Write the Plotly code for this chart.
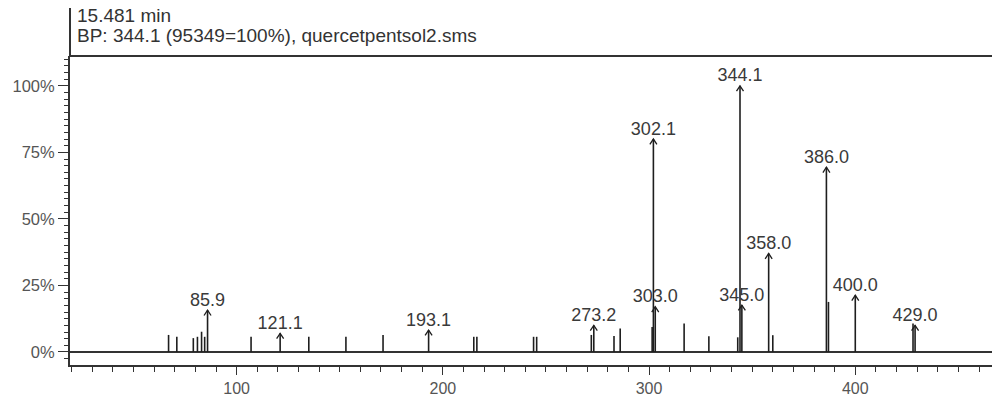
import plotly.graph_objects as go

# ---- data ----
title_line1 = "15.481 min"
title_line2 = "BP: 344.1 (95349=100%), quercetpentsol2.sms"

# unlabeled peaks (m/z, relative intensity %)
peak_mz = [67, 71, 79, 81, 83, 84.5, 107, 135, 153, 171, 215, 216.5, 244, 245.5,
           272, 283, 286, 301.5, 317, 329, 343, 360, 387, 428]
peak_int = [6.4, 5.7, 5.2, 5.7, 7.6, 5.7, 5.7, 5.7, 5.7, 6.4, 5.7, 5.7, 5.7, 5.7,
            6.4, 6.0, 8.8, 9.4, 10.7, 5.9, 5.5, 6.3, 18.8, 10.7]

# labeled peaks
labeled_mz = [85.9, 121.1, 193.1, 273.2, 302.1, 303.0, 344.1, 345.0, 358.0, 386.0, 400.0, 429.0]
labeled_int = [15.7, 7.0, 8.2, 10.0, 80.0, 17.0, 100.0, 17.6, 37.0, 69.4, 21.3, 10.0]
labeled_text = ["85.9", "121.1", "193.1", "273.2", "302.1", "303.0",
                "344.1", "345.0", "358.0", "386.0", "400.0", "429.0"]

y_ticks = [0, 25, 50, 75, 100]
x_ticks = [100, 200, 300, 400]

# ---- build ----
stick_color = "#1e1e1e"
text_color = "#3a3a3a"
font_family = "Liberation Sans, Arial, sans-serif"

all_mz = peak_mz + labeled_mz
all_int = peak_int + labeled_int
sx, sy = [], []
for m, v in zip(all_mz, all_int):
    sx += [m, m, None]
    sy += [0, v, None]

# arrow heads (chevrons) on labeled peaks
head_dx = 1.7   # m/z units
head_dy = 2.0   # % units
hx, hy = [], []
for m, v in zip(labeled_mz, labeled_int):
    hx += [m - head_dx, m, m + head_dx, None]
    hy += [v - head_dy, v, v - head_dy, None]

fig = go.Figure()
fig.add_trace(go.Scatter(x=sx, y=sy, mode="lines",
                         line=dict(color=stick_color, width=1.6),
                         hoverinfo="skip", showlegend=False))
fig.add_trace(go.Scatter(x=hx, y=hy, mode="lines",
                         line=dict(color=stick_color, width=1.3),
                         hoverinfo="skip", showlegend=False))
fig.add_trace(go.Scatter(x=labeled_mz, y=labeled_int, mode="text",
                         text=labeled_text, textposition="top center",
                         textfont=dict(family=font_family, size=18, color=text_color),
                         hoverinfo="skip", showlegend=False))

W, H = 992, 398
ml, mr, mt, mb = 70, 0, 56, 33
ph = H - mt - mb

def paper_y(px):
    return 1 + (mt - px) / ph

fig.update_layout(
    width=W, height=H,
    margin=dict(l=ml, r=mr, t=mt, b=mb, pad=0),
    paper_bgcolor="white", plot_bgcolor="white",
    font=dict(family=font_family, color="#555555"),
    xaxis=dict(range=[19.2, 466.3], showgrid=False, zeroline=False,
               showline=True, linecolor="#333333", linewidth=2, mirror=False,
               tickmode="array", tickvals=x_ticks, ticktext=[str(t) for t in x_ticks],
               ticks="outside", ticklen=8, tickwidth=1, tickcolor="#333333",
               tickfont=dict(size=16, color="#555555"),
               minor=dict(tick0=0, dtick=10, ticks="outside", ticklen=5,
                          tickcolor="#333333", tickwidth=1, showgrid=False)),
    yaxis=dict(range=[-4.9, 111.2], showgrid=False,
               zeroline=True, zerolinecolor="#333333", zerolinewidth=2,
               showline=True, linecolor="#333333", linewidth=2,
               tickmode="array", tickvals=y_ticks, ticktext=[f"{t}%" for t in y_ticks],
               ticks="outside", ticklen=10, tickwidth=1, tickcolor="#333333",
               tickfont=dict(size=16.5, color="#555555"),
               minor=dict(tick0=0, dtick=2.5, ticks="outside", ticklen=4,
                          tickcolor="#333333", tickwidth=1, showgrid=False)),
    shapes=[
        # top frame line
        dict(type="line", xref="paper", yref="paper", x0=0, x1=1, y0=1, y1=1,
             line=dict(color="#333333", width=2)),
        # vertical line extending up beside the header
        dict(type="line", xref="paper", yref="paper", x0=0, x1=0, y0=1, y1=paper_y(8),
             line=dict(color="#333333", width=2)),
    ],
    annotations=[
        dict(text=title_line1, xref="paper", yref="paper", x=(75 - ml) / (W - ml),
             y=paper_y(16), xanchor="left", yanchor="middle", showarrow=False,
             font=dict(size=19, color="#333333", family=font_family)),
        dict(text=title_line2, xref="paper", yref="paper", x=(75 - ml) / (W - ml),
             y=paper_y(35), xanchor="left", yanchor="middle", showarrow=False,
             font=dict(size=19, color="#333333", family=font_family)),
    ],
)

fig.write_html("out.html")
